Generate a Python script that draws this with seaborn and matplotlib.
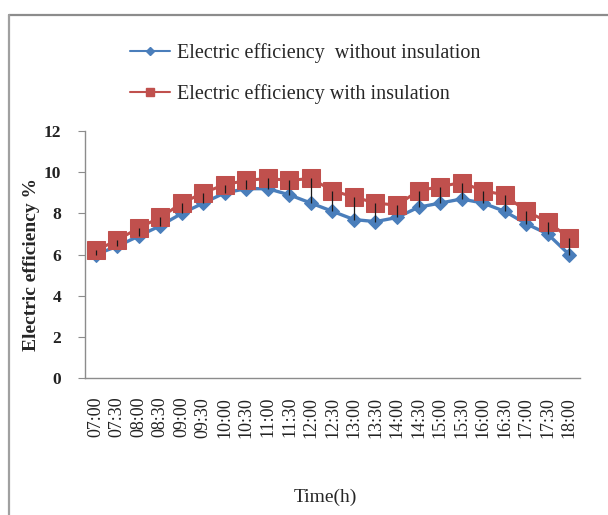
import matplotlib
matplotlib.use("Agg")
import matplotlib.pyplot as plt
from matplotlib.lines import Line2D
import seaborn as sns
import pandas as pd
import numpy as np

# Half-hourly time stamps
times = ["07:00", "07:30", "08:00", "08:30", "09:00", "09:30", "10:00", "10:30",
         "11:00", "11:30", "12:00", "12:30", "13:00", "13:30", "14:00", "14:30",
         "15:00", "15:30", "16:00", "16:30", "17:00", "17:30", "18:00"]

# Electric efficiency (%) of the PV panel
eff_without = [6.0, 6.4, 6.9, 7.4, 8.0, 8.5, 9.0, 9.2, 9.2, 8.9, 8.5, 8.1,
               7.7, 7.6, 7.8, 8.3, 8.5, 8.7, 8.5, 8.1, 7.5, 7.0, 6.0]
eff_with = [6.2, 6.7, 7.3, 7.8, 8.5, 9.0, 9.4, 9.6, 9.7, 9.6, 9.7, 9.1,
            8.8, 8.5, 8.4, 9.1, 9.3, 9.5, 9.1, 8.9, 8.1, 7.6, 6.8]

y_ticks = [0, 2, 4, 6, 8, 10, 12]

label_without = "Electric efficiency  without insulation"
label_with = "Electric efficiency with insulation"

blue = "#4A7EBB"
red = "#C0504D"

sns.set_style("white")
plt.rcParams["font.family"] = ["Liberation Serif", "DejaVu Serif"]

df = pd.DataFrame({
    "pos": np.arange(len(times)),
    "without": eff_without,
    "with": eff_with,
})

fig = plt.figure(figsize=(6.08, 5.15), dpi=100)
ax = fig.add_axes([0.1398, 0.266, 0.814, 0.4795])

sns.lineplot(data=df, x="pos", y="without", ax=ax, color=blue, lw=2.4,
             marker="D", markersize=7.5, markeredgecolor=blue, zorder=2)
sns.lineplot(data=df, x="pos", y="with", ax=ax, color=red, lw=2.2,
             marker="s", markersize=13, markeredgecolor=red, zorder=3)

# high-low lines joining the two series
ax.vlines(df["pos"], df["without"], df["with"], color="#1a1a1a", lw=0.9, zorder=4)

ax.set_xlim(-0.5, len(times) - 0.5)
ax.set_ylim(0, 12)
ax.set_yticks(y_ticks)
ax.set_yticklabels([str(t) for t in y_ticks], fontsize=12.5, fontweight="bold")
ax.set_xticks(df["pos"])
ax.set_xticklabels(times, rotation=90, fontsize=13)

ax.set_xlabel("Time(h)", fontsize=14)
ax.xaxis.set_label_coords(0.485, -0.449)
ax.set_ylabel("Electric efficiency %", fontsize=14, fontweight="bold")
ax.yaxis.set_label_coords(-0.091, 0.46)

for side in ["top", "right"]:
    ax.spines[side].set_visible(False)
for side in ["left", "bottom"]:
    ax.spines[side].set_color("#8c8c8c")
    ax.spines[side].set_linewidth(1.0)
ax.tick_params(axis="y", which="both", left=True, length=5, color="#8c8c8c",
               pad=12, labelcolor="#222222")
ax.tick_params(axis="x", which="both", bottom=False, pad=10, labelcolor="#222222")

handles = [
    Line2D([], [], color=blue, lw=1.5, marker="D", markersize=4),
    Line2D([], [], color=red, lw=1.5, marker="s", markersize=6),
]
fig.legend(handles, [label_without, label_with], loc="center left",
           bbox_to_anchor=(0.213, 0.858), frameon=False, fontsize=14.5,
           handlelength=2.0, handletextpad=0.35, labelspacing=1.05,
           borderpad=0, borderaxespad=0)

# outer chart frame (top and left edges)
x0 = 9 / 608
y0 = 1 - 15 / 515
fig.add_artist(Line2D([x0, 1], [y0, y0], transform=fig.transFigure,
                      color="#8c8c8c", lw=1.6))
fig.add_artist(Line2D([x0, x0], [0, y0], transform=fig.transFigure,
                      color="#a0a0a0", lw=1.6))

fig.savefig("out.png", dpi=100)
